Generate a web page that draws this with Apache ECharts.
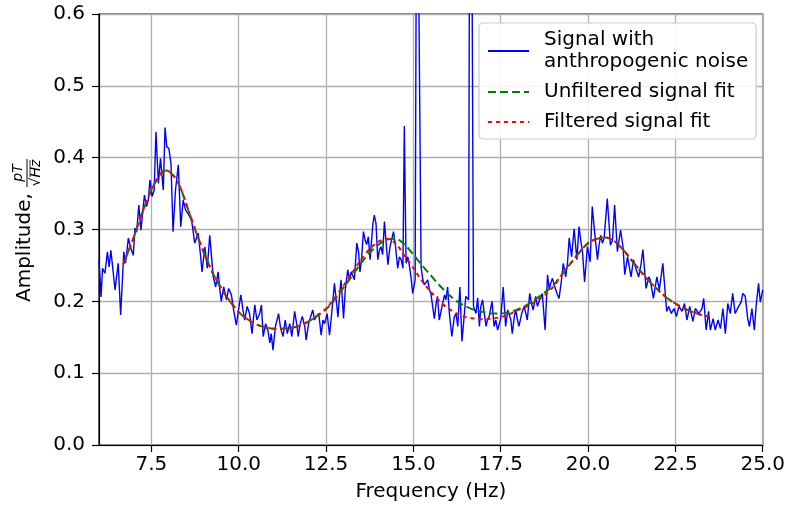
<!DOCTYPE html>
<html>
<head>
<meta charset="utf-8">
<script src="https://cdn.jsdelivr.net/npm/echarts@6/dist/echarts.min.js"></script>
<style>html,body{margin:0;padding:0;background:#fff}#c{width:788px;height:508px}</style>
</head>
<body>
<div id="c"></div>
<script>
// Frequency (Hz) / amplitude pairs
const signalFreq = [6.00,6.06,6.10,6.17,6.24,6.29,6.34,6.41,6.46,6.55,6.62,6.71,6.76,6.84,6.90,6.98,7.03,7.08,7.14,7.20,7.30,7.36,7.41,7.46,7.52,7.58,7.63,7.70,7.76,7.84,7.89,7.94,8.00,8.06,8.12,8.19,8.27,8.34,8.41,8.48,8.55,8.65,8.74,8.84,8.91,8.95,9.03,9.10,9.17,9.27,9.34,9.41,9.46,9.50,9.57,9.65,9.71,9.79,9.86,9.93,10.00,10.06,10.12,10.17,10.24,10.31,10.38,10.46,10.52,10.60,10.65,10.70,10.77,10.84,10.89,10.93,10.98,11.05,11.14,11.20,11.27,11.33,11.39,11.46,11.52,11.60,11.67,11.70,11.76,11.82,11.89,11.93,12.00,12.06,12.12,12.17,12.22,12.29,12.36,12.41,12.46,12.53,12.60,12.67,12.74,12.79,12.84,12.89,12.93,13.00,13.05,13.12,13.17,13.22,13.31,13.38,13.43,13.47,13.52,13.57,13.62,13.66,13.71,13.76,13.84,13.88,13.93,13.98,14.03,14.07,14.12,14.17,14.22,14.27,14.33,14.43,14.49,14.55,14.60,14.65,14.70,14.74,14.79,14.84,14.89,14.93,14.98,15.05,15.10,15.14,15.22,15.27,15.31,15.41,15.46,15.50,15.60,15.65,15.69,15.74,15.82,15.89,15.93,15.98,16.03,16.10,16.17,16.22,16.27,16.33,16.39,16.46,16.50,16.58,16.63,16.67,16.72,16.79,16.84,16.89,16.93,16.98,17.03,17.08,17.12,17.17,17.25,17.31,17.36,17.41,17.46,17.50,17.57,17.64,17.70,17.74,17.79,17.83,17.89,17.93,17.98,18.02,18.10,18.17,18.22,18.26,18.33,18.38,18.43,18.50,18.55,18.60,18.69,18.77,18.84,18.89,18.93,18.98,19.03,19.11,19.17,19.24,19.29,19.36,19.41,19.46,19.53,19.60,19.68,19.74,19.79,19.84,19.90,19.98,20.06,20.12,20.19,20.27,20.31,20.36,20.41,20.46,20.55,20.60,20.64,20.70,20.76,20.84,20.93,21.00,21.05,21.13,21.23,21.30,21.38,21.45,21.52,21.57,21.66,21.74,21.78,21.87,21.97,22.04,22.14,22.25,22.31,22.38,22.46,22.53,22.60,22.69,22.76,22.83,22.91,23.00,23.07,23.17,23.26,23.31,23.38,23.45,23.50,23.58,23.64,23.72,23.79,23.86,23.93,24.00,24.07,24.14,24.21,24.31,24.38,24.43,24.50,24.57,24.62,24.69,24.76,24.81,24.88,24.93,25.00];
const signalAmp = [0.258,0.206,0.246,0.239,0.269,0.248,0.271,0.239,0.216,0.253,0.181,0.269,0.253,0.288,0.276,0.264,0.302,0.297,0.334,0.299,0.348,0.332,0.341,0.369,0.346,0.355,0.436,0.364,0.399,0.355,0.442,0.415,0.413,0.392,0.297,0.355,0.390,0.304,0.341,0.327,0.322,0.313,0.281,0.295,0.262,0.241,0.276,0.246,0.292,0.234,0.220,0.241,0.216,0.200,0.220,0.202,0.218,0.209,0.186,0.167,0.190,0.209,0.188,0.174,0.193,0.183,0.155,0.195,0.174,0.183,0.195,0.151,0.169,0.158,0.142,0.155,0.132,0.165,0.183,0.162,0.151,0.174,0.155,0.169,0.151,0.186,0.165,0.151,0.169,0.179,0.165,0.146,0.169,0.179,0.188,0.174,0.179,0.183,0.153,0.174,0.169,0.183,0.153,0.188,0.225,0.202,0.178,0.211,0.230,0.176,0.216,0.244,0.230,0.241,0.230,0.281,0.269,0.241,0.262,0.297,0.285,0.279,0.290,0.258,0.308,0.320,0.308,0.258,0.272,0.276,0.265,0.311,0.281,0.251,0.276,0.297,0.276,0.246,0.262,0.258,0.246,0.444,0.253,0.262,0.248,0.234,0.211,0.230,0.950,0.950,0.248,0.230,0.223,0.230,0.216,0.211,0.176,0.197,0.207,0.174,0.193,0.209,0.202,0.220,0.183,0.151,0.178,0.183,0.165,0.220,0.144,0.183,0.207,0.202,1.200,1.200,0.193,0.183,0.205,0.165,0.193,0.202,0.183,0.165,0.174,0.179,0.200,0.165,0.174,0.160,0.169,0.176,0.220,0.165,0.188,0.190,0.174,0.155,0.179,0.188,0.174,0.165,0.183,0.193,0.183,0.174,0.211,0.197,0.188,0.207,0.193,0.200,0.211,0.160,0.237,0.216,0.225,0.232,0.223,0.211,0.204,0.230,0.253,0.234,0.253,0.288,0.262,0.301,0.258,0.304,0.285,0.269,0.227,0.276,0.255,0.332,0.295,0.258,0.276,0.292,0.281,0.288,0.343,0.308,0.278,0.285,0.334,0.269,0.299,0.276,0.237,0.262,0.234,0.258,0.244,0.234,0.253,0.272,0.218,0.234,0.230,0.204,0.234,0.216,0.253,0.186,0.193,0.183,0.190,0.179,0.193,0.186,0.197,0.174,0.193,0.172,0.190,0.183,0.190,0.204,0.160,0.186,0.160,0.176,0.160,0.174,0.162,0.190,0.155,0.197,0.183,0.211,0.183,0.193,0.199,0.211,0.207,0.176,0.165,0.190,0.160,0.193,0.225,0.199,0.216];

const fitFreq = [6.7,7.0,7.25,7.5,7.75,7.9,8.0,8.25,8.5,8.75,9.0,9.25,9.5,9.75,10.0,10.25,10.5,10.75,11.0,11.25,11.5,11.75,12.0,12.25,12.5,12.75,13.0,13.25,13.5,13.75,14.0,14.25,14.5,14.75,15.0,15.25,15.5,15.75,16.0,16.25,16.5,16.75,17.0,17.25,17.5,17.75,18.0,18.25,18.5,18.75,19.0,19.25,19.5,19.75,20.0,20.25,20.5,20.75,21.0,21.25,21.5,21.75,22.0,22.25,22.5,22.75,23.0,23.25,23.45];
const filteredFit = [0.252,0.290,0.325,0.355,0.377,0.382,0.381,0.367,0.335,0.300,0.268,0.240,0.218,0.200,0.185,0.175,0.168,0.164,0.162,0.162,0.163,0.166,0.172,0.180,0.190,0.205,0.222,0.240,0.258,0.273,0.283,0.287,0.280,0.263,0.246,0.228,0.213,0.200,0.190,0.183,0.178,0.176,0.175,0.176,0.178,0.182,0.188,0.193,0.200,0.208,0.220,0.237,0.253,0.268,0.281,0.287,0.289,0.284,0.272,0.257,0.242,0.228,0.216,0.205,0.197,0.190,0.185,0.181,0.179];
const unfilteredFit = [0.252,0.290,0.325,0.355,0.377,0.382,0.381,0.367,0.335,0.300,0.268,0.240,0.218,0.200,0.185,0.175,0.168,0.164,0.162,0.162,0.163,0.166,0.172,0.180,0.189,0.203,0.219,0.236,0.253,0.268,0.279,0.286,0.287,0.279,0.265,0.250,0.236,0.222,0.210,0.200,0.193,0.188,0.185,0.183,0.183,0.185,0.189,0.195,0.203,0.212,0.222,0.237,0.253,0.268,0.281,0.287,0.289,0.284,0.272,0.257,0.242,0.228,0.216,0.205,0.197,0.190,0.185,0.181,0.179];

const xTicks = [7.5,10,12.5,15,17.5,20,22.5,25];
const yTicks = [0,0.1,0.2,0.3,0.4,0.5,0.6];

const seriesNames = ['Signal with\nanthropogenic noise','Unfiltered signal fit','Filtered signal fit'];

const FONT = '"DejaVu Sans", sans-serif';
const pair = (xs, ys) => xs.map((x, i) => [x, ys[i]]);

const chart = echarts.init(document.getElementById('c'), null, {renderer: 'canvas'});
chart.setOption({
  animation: false,
  backgroundColor: '#fff',
  grid: {left: 99, right: 24, top: 14, bottom: 63, show: true, borderColor: '#000', borderWidth: 1.2, backgroundColor: 'transparent'},
  xAxis: {
    type: 'value', min: 6, max: 25,
    name: 'Frequency (Hz)', nameLocation: 'middle', nameGap: 37,
    nameTextStyle: {fontFamily: FONT, fontSize: 20, color: '#000'},
    axisLine: {show: true, lineStyle: {color: '#000', width: 1.2}},
    axisTick: {show: true, length: 7, customValues: xTicks, lineStyle: {color: '#000', width: 1.2}},
    axisLabel: {customValues: xTicks, margin: 10, fontFamily: FONT, fontSize: 20, color: '#000', formatter: v => Number(v).toFixed(1)},
    splitLine: {show: true, lineStyle: {color: '#b0b0b0', width: 1.3}}
  },
  yAxis: {
    type: 'value', min: yTicks[0], max: yTicks[yTicks.length - 1], interval: 0.1,
    axisLine: {show: true, lineStyle: {color: '#000', width: 1.2}},
    axisTick: {show: true, length: 7, lineStyle: {color: '#000', width: 1.2}},
    axisLabel: {margin: 14, fontFamily: FONT, fontSize: 20, color: '#000', formatter: v => Number(v).toFixed(1)},
    splitLine: {show: true, lineStyle: {color: '#b0b0b0', width: 1.3}}
  },
  legend: {
    orient: 'vertical', left: 479, top: 23,
    padding: [6, 8, 6, 8], itemGap: 8,
    itemWidth: 41, itemHeight: 14,
    itemStyle: {opacity: 0},
    backgroundColor: 'rgba(255,255,255,0.85)', borderColor: '#cccccc', borderWidth: 1.2, borderRadius: 4,
    textStyle: {fontFamily: FONT, fontSize: 20, color: '#000', lineHeight: 22, padding: [0, 0, 0, 10]},
    data: seriesNames
  },
  graphic: [{
    type: 'group', x: 26, y: 302, rotation: Math.PI / 2,
    children: [
      {type: 'text', x: 0, y: -1, style: {text: 'Amplitude,', font: '20px ' + FONT, fill: '#000', align: 'left', verticalAlign: 'middle'}},
      {type: 'line', shape: {x1: 115, y1: 1, x2: 143, y2: 1}, style: {stroke: '#000', lineWidth: 1}},
      {type: 'text', x: 129, y: -1, style: {text: 'pT', font: 'italic 14px ' + FONT, fill: '#000', align: 'center', verticalAlign: 'bottom'}},
      {type: 'text', x: 129, y: 3, style: {text: '√Hz', font: 'italic 14px ' + FONT, fill: '#000', align: 'center', verticalAlign: 'top'}},
      {type: 'line', shape: {x1: 125, y1: 4, x2: 142, y2: 4}, style: {stroke: '#000', lineWidth: 0.8}}
    ]
  }],
  series: [
    {name: seriesNames[0], type: 'line', data: pair(signalFreq, signalAmp), showSymbol: false, symbol: 'none',
     lineStyle: {color: '#0000ff', width: 1.4}, itemStyle: {color: '#0000ff'}, clip: true, z: 2},
    {name: seriesNames[1], type: 'line', data: pair(fitFreq, unfilteredFit), showSymbol: false, symbol: 'none', smooth: 0.3,
     lineStyle: {color: '#008000', width: 2, type: [8, 4]}, itemStyle: {color: '#008000'}, clip: true, z: 3},
    {name: seriesNames[2], type: 'line', data: pair(fitFreq, filteredFit), showSymbol: false, symbol: 'none', smooth: 0.3,
     lineStyle: {color: '#ff0000', width: 2, type: [4, 4]}, itemStyle: {color: '#ff0000'}, clip: true, z: 4}
  ]
});
</script>
</body>
</html>
